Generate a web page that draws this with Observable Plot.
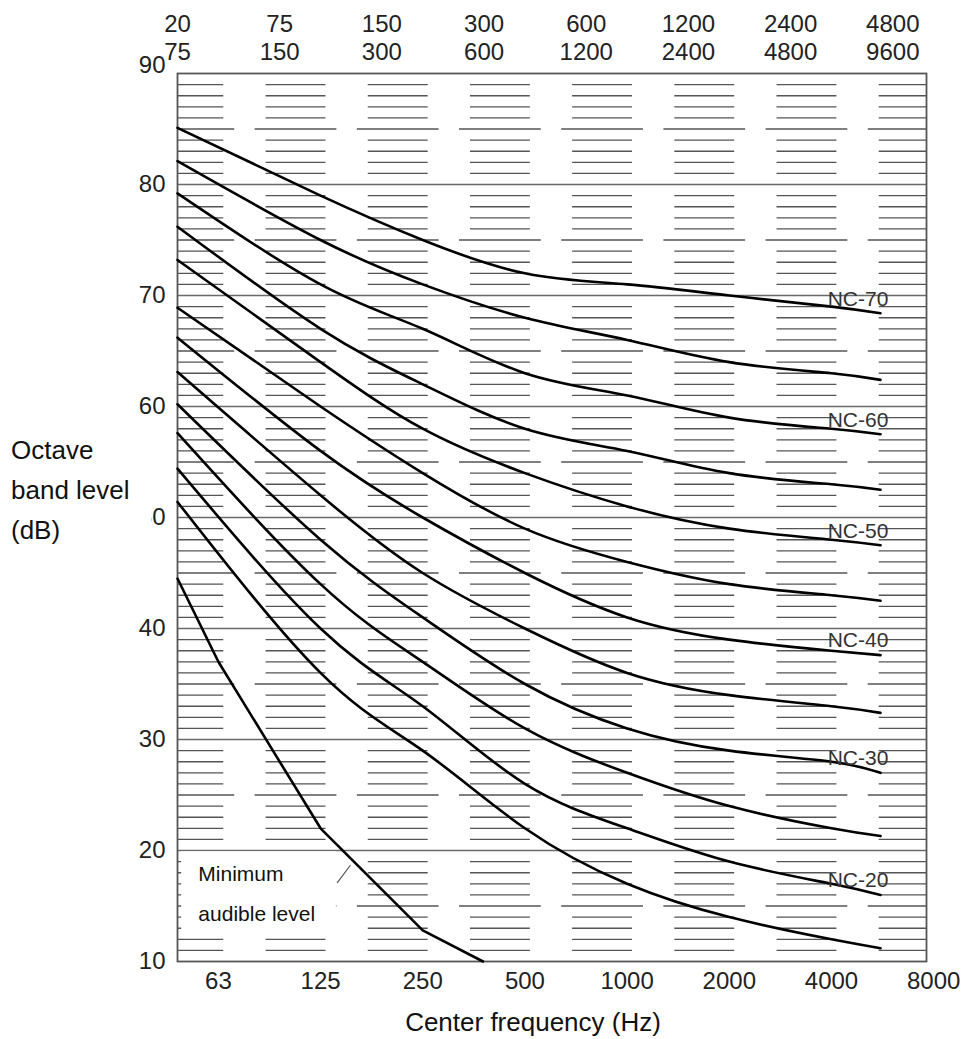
<!DOCTYPE html>
<html>
<head>
<meta charset="utf-8">
<script src="https://cdn.jsdelivr.net/npm/d3@7"></script>
<script src="https://cdn.jsdelivr.net/npm/@observablehq/plot@0.6"></script>
<style>
  html, body { margin: 0; padding: 0; background: #fff; }
  #wrap { position: relative; width: 968px; height: 1039px; font-family: "Liberation Sans", Arial, Helvetica, sans-serif; }
  #ylab { position: absolute; left: 0; top: 430px; width: 140px; height: 120px; padding-left: 11px;
          background: #fff; font-size: 26px; line-height: 40px; color: #111; white-space: nowrap; }
</style>
</head>
<body>
<div id="wrap"><div id="chart"></div><div id="ylab">Octave<br>band level<br>(dB)</div></div>
<script>
// ---- data ----
const bandCenters = ["63", "125", "250", "500", "1000", "2000", "4000", "8000"];
const bandLower   = ["20", "75", "150", "300", "600", "1200", "2400", "4800"];
const bandUpper   = ["75", "150", "300", "600", "1200", "2400", "4800", "9600"];
const yTicks = [10, 20, 30, 40, 50, 60, 70, 80];
const yTopTick = [90];

// x positions of curve points in band units (63 Hz = 0): left edge, 125 ... 4000 Hz, curve end
const curveX = [-0.4, 1, 2, 3, 4, 5, 6, 6.48];
const nc70 = [85.1, 79, 75, 72, 71, 70, 69, 68.4];
const nc65 = [82.1, 75, 71, 68, 66, 64, 63, 62.4];
const nc60 = [79.2, 71, 67, 63, 61, 59, 58, 57.5];
const nc55 = [76.2, 67, 62, 58, 56, 54, 53, 52.5];
const nc50 = [73.2, 64, 58, 54, 51, 49, 48, 47.5];
const nc45 = [68.9, 60, 54, 49, 46, 44, 43, 42.5];
const nc40 = [66.2, 56, 50, 45, 41, 39, 38, 37.6];
const nc35 = [63.1, 52, 45, 40, 36, 34, 33, 32.4];
const nc30 = [60.2, 48, 41, 35, 31, 29, 28, 27.0];
const nc25 = [57.6, 44, 37, 31, 27, 24, 22, 21.3];
const nc20 = [54.4, 40, 33, 26, 22, 19, 17, 16.0];
const nc15 = [51.4, 36, 29, 22, 17, 14, 12, 11.2];
const ncLabeled = ["NC-70", "NC-60", "NC-50", "NC-40", "NC-30", "NC-20"];

const minAudibleX = [-0.4, 0, 1, 2, 2.59];
const minAudible  = [44.5, 37, 22, 12.8, 10];

// ---- build tables ----
const series = [
  ["NC-70", nc70], ["NC-65", nc65], ["NC-60", nc60], ["NC-55", nc55],
  ["NC-50", nc50], ["NC-45", nc45], ["NC-40", nc40], ["NC-35", nc35],
  ["NC-30", nc30], ["NC-25", nc25], ["NC-20", nc20], ["NC-15", nc15]
];
const rows = [];
series.forEach(([name, vals]) => vals.forEach((v, i) => rows.push({nc: name, x: curveX[i], y: v})));
const minRows = minAudible.map((v, i) => ({x: minAudibleX[i], y: v}));
const labelRows = series.filter(([n]) => ncLabeled.includes(n))
  .map(([n, vals]) => ({name: n, y: vals[vals.length - 1] + 1.3}));

const xMin = -0.4, xMax = 6.93;
const dashes = [];
for (let db = 11; db < 90; db++) {
  if (db % 10 === 0) continue;
  const half = db % 5 === 0 ? 0.40 : 0.293;
  for (let k = -1; k <= 6; k++) {
    const c = k + 0.76;
    dashes.push({y: db, a: Math.max(xMin, c - half), b: Math.min(xMax, c + half)});
  }
}

const chart = Plot.plot({
  width: 968,
  height: 1039,
  marginLeft: 177,
  marginRight: 42,
  marginTop: 73,
  marginBottom: 78,
  style: {fontFamily: "'Liberation Sans', Arial, Helvetica, sans-serif", fontSize: "24px", background: "#fff", color: "#222"},
  x: {domain: [xMin, xMax], axis: null},
  y: {domain: [10, 90], axis: null},
  marks: [
    Plot.ruleY([20, 30, 40, 50, 60, 70, 80], {stroke: "#6a6a6a", strokeWidth: 1.4}),
    Plot.ruleY(dashes, {y: "y", x1: "a", x2: "b", stroke: "#555", strokeWidth: 1.35}),
    Plot.rect([0], {x1: -0.36, x2: 1.155, y1: 12.3, y2: 19.88, fill: "#fff"}),
    Plot.frame({stroke: "#555", strokeWidth: 1.8}),
    Plot.line(rows, {x: "x", y: "y", z: "nc", curve: "natural", stroke: "#000", strokeWidth: 2.6}),
    Plot.line(minRows, {x: "x", y: "y", curve: "linear", stroke: "#000", strokeWidth: 2.6}),
    Plot.line([{x: 1.164, y: 17.1}, {x: 1.29, y: 18.65}], {x: "x", y: "y", stroke: "#555", strokeWidth: 1.2}),
    Plot.text(["Minimum", "audible level"], {x: -0.196, y: (d, i) => i === 0 ? 17.9 : 14.3, text: d => d,
      textAnchor: "start", lineAnchor: "middle", fontSize: 21, fill: "#111"}),
    Plot.text(labelRows, {x: 6.26, y: "y", text: "name", lineAnchor: "middle", fontSize: 21, fill: "#333"}),
    Plot.text(bandLower, {x: (d, i) => i - 0.4, frameAnchor: "top", lineAnchor: "middle", dy: -49.5, text: d => d, fill: "#222"}),
    Plot.text(bandUpper, {x: (d, i) => i - 0.4, frameAnchor: "top", lineAnchor: "middle", dy: -21, text: d => d, fill: "#222"}),
    Plot.text(bandCenters, {x: (d, i) => i, frameAnchor: "bottom", lineAnchor: "middle", dy: 19.5, text: d => d, fill: "#222"}),
    Plot.text(yTicks, {y: d => d, frameAnchor: "left", lineAnchor: "middle", dx: -12, textAnchor: "end", text: d => String(d), fill: "#222"}),
    Plot.text(yTopTick, {y: d => d, frameAnchor: "left", lineAnchor: "middle", dx: -12, dy: -8, textAnchor: "end", text: d => String(d), fill: "#222"}),
    Plot.text(["Center frequency (Hz)"], {frameAnchor: "bottom", lineAnchor: "middle", dy: 61, dx: -19, text: d => d, fontSize: 26, fill: "#111"})
  ]
});
document.getElementById("chart").appendChild(chart);
</script>
</body>
</html>
